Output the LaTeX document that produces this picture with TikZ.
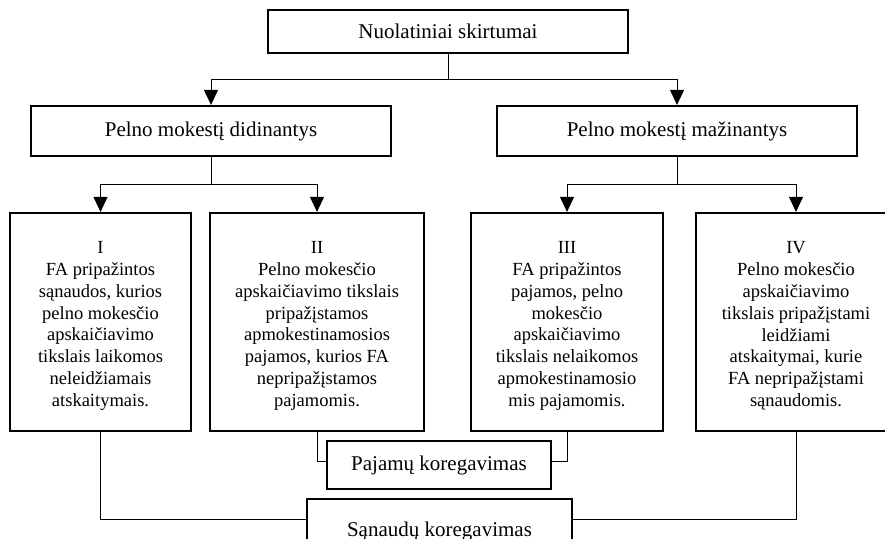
\documentclass[tikz,border=0pt]{standalone}
\usepackage{fontspec}
\setmainfont{Liberation Serif}
\usetikzlibrary{arrows.meta}
\newcommand{\firstline}{\rule{0pt}{20pt}}
\tikzset{
  box/.style={draw=black, line width=2.2pt, fill=white, align=center, inner sep=2pt,
    font={\fontsize{21pt}{24pt}\selectfont}},
  groupbox/.style={box, minimum height=218,
    font={\fontsize{18.5pt}{21.8pt}\selectfont}},
  link/.style={draw=black, line width=1pt},
  arr/.style={link, -{Triangle[width=14pt,length=15pt]}}
}
\begin{document}
\begin{tikzpicture}[x=1pt,y=1pt]
\path[use as bounding box] (0,0) rectangle (885,-538);
\clip (0,0) rectangle (885,-538);

% top level
\node[box, minimum width=360, minimum height=43] (top) at (448,-31.5) {Nuolatiniai skirtumai};

% second level
\node[box, minimum width=360, minimum height=50] (pl) at (211,-131) {Pelno mokestį didinantys};
\node[box, minimum width=360, minimum height=50] (pr) at (677,-131) {Pelno mokestį mažinantys};

% four groups
\node[groupbox, minimum width=181] (b1) at (100.5,-322)
  {\firstline I\\FA pripažintos\\sąnaudos, kurios\\pelno mokesčio\\apskaičiavimo\\tikslais laikomos\\neleidžiamais\\atskaitymais.};
\node[groupbox, minimum width=214] (b2) at (317,-322)
  {\firstline II\\Pelno mokesčio\\apskaičiavimo tikslais\\pripažįstamos\\apmokestinamosios\\pajamos, kurios FA\\nepripažįstamos\\pajamomis.};
\node[groupbox, minimum width=192] (b3) at (567,-322)
  {\firstline III\\FA pripažintos\\pajamos, pelno\\mokesčio\\apskaičiavimo\\tikslais nelaikomos\\apmokestinamosio\\mis pajamomis.};
\node[groupbox, minimum width=200] (b4) at (796,-322)
  {\firstline IV\\Pelno mokesčio\\apskaičiavimo\\tikslais pripažįstami\\leidžiami\\atskaitymai, kurie\\FA nepripažįstami\\sąnaudomis.};

% adjustments
\node[box, minimum width=224, minimum height=48] (paj) at (439,-465) {Pajamų koregavimas};
\node[box, minimum width=265, inner ysep=0pt, text height=37pt, text depth=13pt,
  anchor=north] (san) at (439.5,-498) {Sąnaudų koregavimas};

% top branching
\draw[arr] (top.south) -- (top.south |- 0,-79) -| (pl.north);
\draw[arr] (top.south) -- (top.south |- 0,-79) -| (pr.north);

% second-level branching
\draw[arr] (pl.south) -- (pl.south |- 0,-184) -| (b1.north);
\draw[arr] (pl.south) -- (pl.south |- 0,-184) -| (b2.north);
\draw[arr] (pr.south) -- (pr.south |- 0,-184) -| (b3.north);
\draw[arr] (pr.south) -- (pr.south |- 0,-184) -| (b4.north);

% links to adjustments
\draw[link] (b2.south) |- (paj.west |- 0,-461);
\draw[link] (b3.south) |- (paj.east |- 0,-461);
\draw[link] (b1.south) |- (san.west |- 0,-519);
\draw[link] (b4.south) |- (san.east |- 0,-519);
\end{tikzpicture}
\end{document}
